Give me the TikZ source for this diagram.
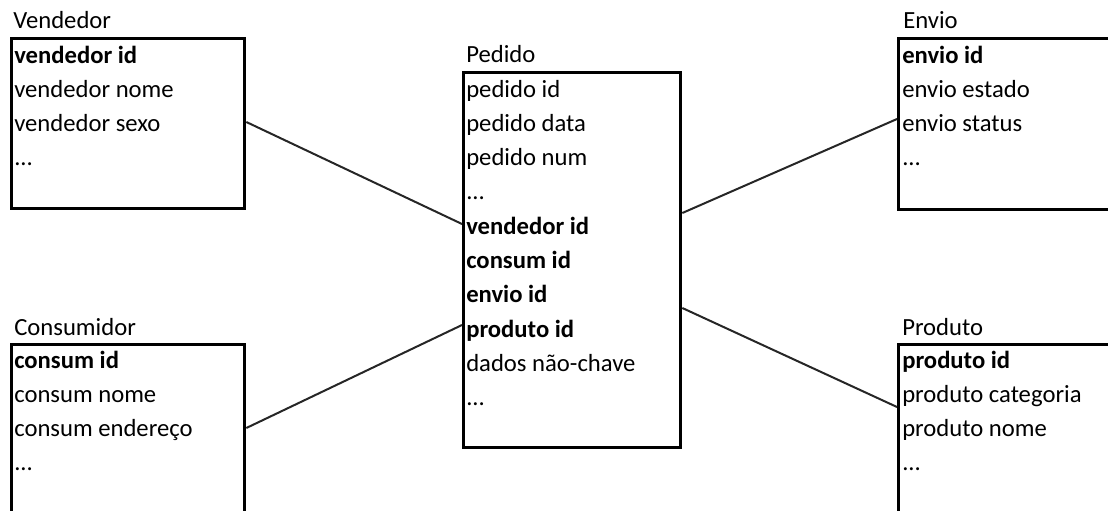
\documentclass[tikz,border=0pt]{standalone}
\usepackage{fontspec}
\setmainfont{Carlito}
\usetikzlibrary{calc}
\begin{document}
\begin{tikzpicture}[x=0.75pt,y=-0.75pt,
  txt/.style={font=\fontsize{18.5}{22}\selectfont, inner sep=0pt, anchor=base west, text=black},
  key/.style={txt, font=\fontsize{18.5}{22}\selectfont\bfseries},
  entity/.style={draw=black, line width=2.5pt, anchor=north west, inner sep=0pt},
  link/.style={draw=black!85, line width=1.5pt}]
\useasboundingbox (0,0) rectangle (1108,511);
\clip (0,0) rectangle (1108,511);

% entity boxes
\node[entity, minimum width=174.75pt, minimum height=127.5pt] (vbox) at (10,37) {};
\node[entity, minimum width=162.75pt, minimum height=281.25pt] (pbox) at (462,71) {};
\node[entity, minimum width=167.25pt, minimum height=128.25pt] (ebox) at (897,37) {};
\node[entity, minimum width=174.75pt, minimum height=147.75pt] (cbox) at (10,343) {};
\node[entity, minimum width=167.25pt, minimum height=147.75pt] (rbox) at (897,343) {};

% Vendedor
\node[txt] (vt) at (13,28) {Vendedor};
\node[key] (v1) at (14,63) {vendedor id};
\node[txt] (v2) at (14,97.3) {vendedor nome};
\node[txt] (v3) at (14,131.6) {vendedor sexo};
\node[txt] (v4) at (14,165.9) {...};

% Pedido
\node[txt] (pt) at (466,62) {Pedido};
\node[txt] (p1) at (466,97) {pedido id};
\node[txt] (p2) at (466,131.3) {pedido data};
\node[txt] (p3) at (466,165.6) {pedido num};
\node[txt] (p4) at (466,199.9) {...};
\node[key] (p5) at (466,234.2) {vendedor id};
\node[key] (p6) at (466,268.5) {consum id};
\node[key] (p7) at (466,302.8) {envio id};
\node[key] (p8) at (466,337.1) {produto id};
\node[txt] (p9) at (466,371.4) {dados não-chave};
\node[txt] (p10) at (466,405.7) {...};

% Envio
\node[txt] (et) at (903,28) {Envio};
\node[key] (e1) at (902,63) {envio id};
\node[txt] (e2) at (902,97.3) {envio estado};
\node[txt] (e3) at (902,131.6) {envio status};
\node[txt] (e4) at (902,165.9) {...};

% Consumidor
\node[txt] (ct) at (14,335) {Consumidor};
\node[key] (c1) at (14,368) {consum id};
\node[txt] (c2) at (14,402.3) {consum nome};
\node[txt] (c3) at (14,436.6) {consum endereço};
\node[txt] (c4) at (14,470.9) {...};

% Produto
\node[txt] (rt) at (902,335) {Produto};
\node[key] (r1) at (902,368) {produto id};
\node[txt] (r2) at (902,402.3) {produto categoria};
\node[txt] (r3) at (902,436.6) {produto nome};
\node[txt] (r4) at (902,470.9) {...};

% relationships
\draw[link] ($(vbox.north east)+(0,85)$) -- ($(pbox.north west)+(0,153)$);
\draw[link] ($(cbox.north east)+(0,85)$) -- ($(pbox.north west)+(0,254)$);
\draw[link] ($(pbox.north east)+(0,142)$) -- ($(ebox.north west)+(0,82)$);
\draw[link] ($(pbox.north east)+(0,237)$) -- ($(rbox.north west)+(0,64)$);
\end{tikzpicture}
\end{document}
